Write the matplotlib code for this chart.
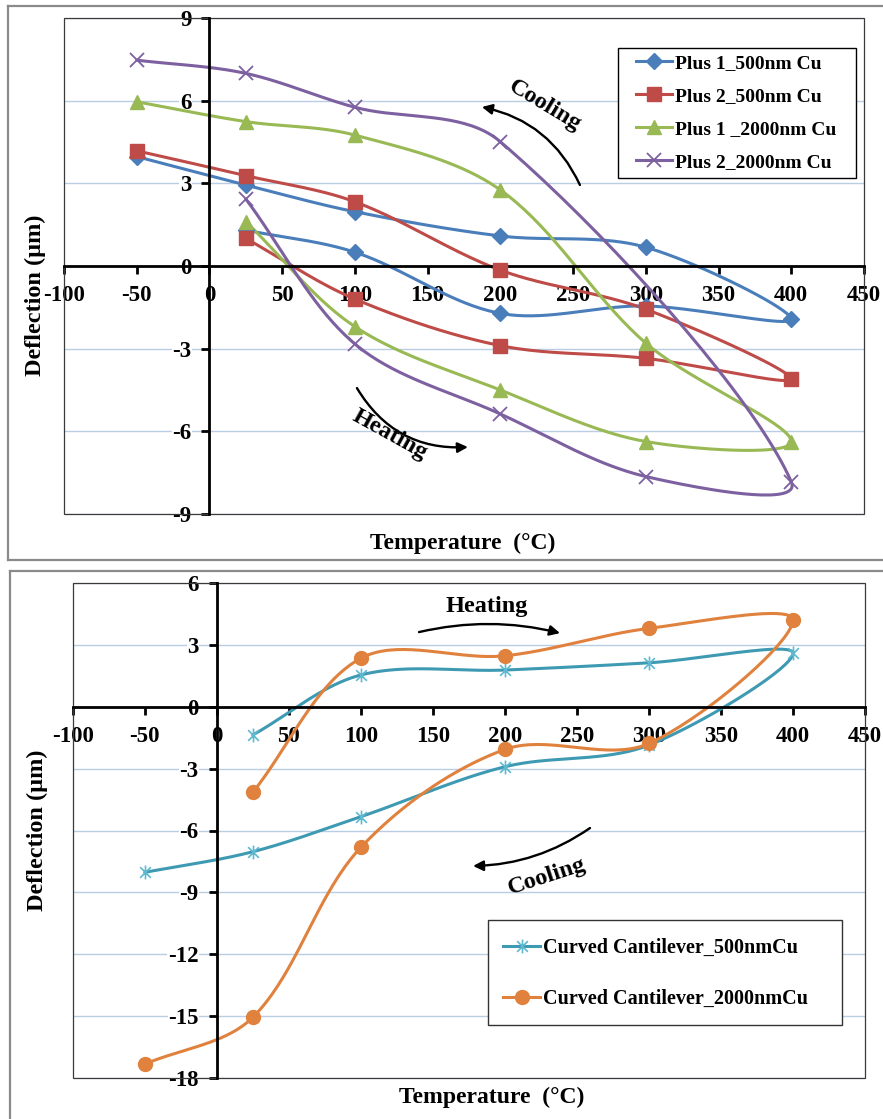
import numpy as np
import matplotlib
matplotlib.use('Agg')
import matplotlib.pyplot as plt
from matplotlib.lines import Line2D
from matplotlib.patches import Rectangle
from matplotlib.path import Path

# temperature sequence of one heating/cooling cycle
temps = [25, 100, 200, 300, 400, 300, 200, 100, 25, -50]
temps_p2_2000 = [25, 100, 200, 300, 400, 200, 100, 25, -50]

plus1_500 = [1.3, 0.5, -1.72, -1.45, -1.93, 0.68, 1.09, 1.97, 2.94, 3.97]
plus2_500 = [1.0, -1.2, -2.89, -3.35, -4.1, -1.57, -0.15, 2.33, 3.28, 4.18]
plus1_2000 = [1.61, -2.2, -4.5, -6.37, -6.37, -2.8, 2.76, 4.75, 5.24, 5.96]
plus2_2000 = [2.43, -2.83, -5.37, -7.64, -7.83, 4.51, 5.76, 6.99, 7.47]

curved_500 = [-1.37, 1.54, 1.78, 2.13, 2.59, -1.86, -2.91, -5.33, -7.03, -8.03]
curved_2000 = [-4.15, 2.35, 2.47, 3.8, 4.2, -1.78, -2.07, -6.82, -15.06, -17.33]

W, H = 883, 1119
plt.rcParams['font.family'] = ['Liberation Serif', 'DejaVu Serif']
plt.rcParams['font.weight'] = 'bold'
plt.rcParams['axes.unicode_minus'] = False

# six-spoke star marker (x plus a vertical bar)
star = Path([(-1, -1), (1, 1), (-1, 1), (1, -1), (0, -1.3), (0, 1.3)],
            [Path.MOVETO, Path.LINETO, Path.MOVETO, Path.LINETO, Path.MOVETO, Path.LINETO])


def smooth(ax, xs, ys, n=40):
    # bezier through the points, handles weighted by neighbouring segment lengths on screen
    p = ax.transData.transform(np.column_stack([xs, ys]).astype(float))
    out = [p[0]]
    t = np.linspace(0, 1, n)[1:, None]
    for i in range(len(p) - 1):
        p0 = p[max(i - 1, 0)]
        p1 = p[i]
        p2 = p[i + 1]
        p3 = p[min(i + 2, len(p) - 1)]
        d01 = np.hypot(*(p1 - p0))
        d12 = np.hypot(*(p2 - p1))
        d23 = np.hypot(*(p3 - p2))
        c1 = p1 + (p2 - p0) * d12 / (d01 + d12) / 3
        c2 = p2 - (p3 - p1) * d12 / (d12 + d23) / 3
        seg = (1 - t)**3 * p1 + 3 * (1 - t)**2 * t * c1 + 3 * (1 - t) * t**2 * c2 + t**3 * p2
        out.extend(seg)
    out = ax.transData.inverted().transform(np.array(out))
    return out[:, 0], out[:, 1]


def rect(x0, y0, x1, y1):
    return [x0 / W, 1 - y1 / H, (x1 - x0) / W, (y1 - y0) / H]


def setup(ax, ylo, yhi):
    ax.set_xlim(-100, 450)
    ax.set_ylim(ylo, yhi)
    ax.set_xticks(range(-100, 451, 50))
    ax.set_yticks(range(ylo, yhi + 1, 3))
    for s in ['left', 'bottom']:
        ax.spines[s].set_position(('data', 0))
        ax.spines[s].set_linewidth(2)
        ax.spines[s].set_color('black')
    ax.spines['top'].set_visible(False)
    ax.spines['right'].set_visible(False)
    ax.add_patch(Rectangle((0, 0), 1, 1, transform=ax.transAxes, fill=False,
                           ec='#3a3a3a', lw=0.9, zorder=0.6, clip_on=False))
    ax.tick_params(direction='out', length=6, width=2, labelsize=16.5)
    ax.tick_params(axis='x', pad=8)
    ax.tick_params(axis='y', pad=7)
    ax.yaxis.grid(True, color='#B9CDE5', lw=1)
    ax.set_axisbelow(True)
    for lab in ax.get_yticklabels():
        lab.set_bbox(dict(fc='white', ec='none', pad=0.5))


def series(ax, xs, ys, color, marker, ms, mfc=None, mew=1.0):
    sx, sy = smooth(ax, xs, ys)
    ax.plot(sx, sy, color=color, lw=2.2, solid_capstyle='round', zorder=2)
    ax.plot(xs, ys, ls='none', marker=marker, ms=ms, color=mfc or color,
            mec=mfc or color, mew=mew, zorder=3)
    return Line2D([], [], color=color, lw=2.2, marker=marker, ms=ms,
                  mfc=mfc or color, mec=mfc or color, mew=mew)


def arrow(ax, start, head, rad):
    ax.annotate('', xy=head, xytext=start,
                arrowprops=dict(arrowstyle='-|>', connectionstyle=f'arc3,rad={rad}',
                                color='black', lw=1.7, mutation_scale=15,
                                shrinkA=0, shrinkB=0))


def legend_box(fig, x0, y0, x1, y1, ec):
    fig.add_artist(Rectangle((x0 / W, 1 - y1 / H), (x1 - x0) / W, (y1 - y0) / H,
                             transform=fig.transFigure, fc='white', ec=ec, lw=1.0, zorder=4))


fig = plt.figure(figsize=(W / 100, H / 100), dpi=100)

# panel frames
for (x0, y0, y1) in [(8, 6, 560), (10, 571, None)]:
    fx0 = x0 / W
    fig.add_artist(Line2D([fx0, 1.01], [1 - y0 / H] * 2, transform=fig.transFigure,
                          color='#8a8a8a', lw=1.6))
    yb = 1 - (y1 / H) if y1 else -0.01
    fig.add_artist(Line2D([fx0, fx0], [1 - y0 / H, yb], transform=fig.transFigure,
                          color='#8a8a8a', lw=1.6))
    if y1:
        fig.add_artist(Line2D([fx0, 1.01], [yb, yb], transform=fig.transFigure,
                              color='#8a8a8a', lw=1.6))

# top: plus-shaped cantilevers
ax1 = fig.add_axes(rect(64, 18, 864, 514))
setup(ax1, -9, 9)
h = [
    series(ax1, temps, plus1_500, '#4A7EBB', 'D', 8),
    series(ax1, temps, plus2_500, '#BE4B48', 's', 10),
    series(ax1, temps, plus1_2000, '#98B954', '^', 10.5),
    series(ax1, temps_p2_2000, plus2_2000, '#7D60A0', 'x', 10, mew=1.3),
]
legend_box(fig, 618, 48, 856, 178, 'black')
leg1 = fig.legend(h, ['Plus 1_500nm Cu', 'Plus 2_500nm Cu', 'Plus 1 _2000nm Cu', 'Plus 2_2000nm Cu'],
                  loc='upper left', bbox_to_anchor=(636 / W, 1 - 54 / H), borderaxespad=0,
                  frameon=False, fontsize=14, handlelength=1.85, handletextpad=0.15,
                  borderpad=0, labelspacing=0.8)
leg1.set_zorder(5)
arrow(ax1, (254.7, 2.94), (187.3, 5.77), 0.25)
ax1.text(230.6, 5.81, 'Cooling', rotation=-31, ha='center', va='center', fontsize=17.5)
arrow(ax1, (101.4, -4.43), (177.7, -6.57), 0.3)
ax1.text(124.1, -6.13, 'Heating', rotation=-29, ha='center', va='center', fontsize=17.5)

# bottom: curved cantilevers
ax2 = fig.add_axes(rect(72.7, 583, 865, 1078))
setup(ax2, -18, 6)
h2 = [
    series(ax2, temps, curved_500, '#3E9AB2', star, 10, mfc='#5DB8D0', mew=1.2),
    series(ax2, temps, curved_2000, '#E0823D', 'o', 10),
]
legend_box(fig, 488, 920, 842, 1025, '#333333')
leg2 = fig.legend(h2, ['Curved Cantilever_500nmCu', 'Curved Cantilever_2000nmCu'],
                  loc='upper left', bbox_to_anchor=(503 / W, 1 - 938 / H), borderaxespad=0,
                  frameon=False, fontsize=14.5, handlelength=1.85, handletextpad=0.15,
                  borderpad=0, labelspacing=1.55)
leg2.set_zorder(5)
arrow(ax2, (140.4, 3.62), (238.3, 3.57), -0.12)
ax2.text(187.6, 4.88, 'Heating', ha='center', va='center', fontsize=17.5)
arrow(ax2, (259.1, -5.88), (177.9, -7.72), -0.15)
ax2.text(229.2, -8.25, 'Cooling', rotation=18, ha='center', va='center', fontsize=17.5)

# axis titles
fig.text(463 / W, 1 - 543 / H, 'Temperature  (°C)', ha='center', va='center', fontsize=17)
fig.text(35 / W, 1 - 295 / H, 'Deflection (µm)', rotation=90, ha='center', va='center', fontsize=17.5)
fig.text(492 / W, 1 - 1097 / H, 'Temperature  (°C)', ha='center', va='center', fontsize=17)
fig.text(37 / W, 1 - 830 / H, 'Deflection (µm)', rotation=90, ha='center', va='center', fontsize=17.5)

fig.savefig('out.png', dpi=100, facecolor='white')
